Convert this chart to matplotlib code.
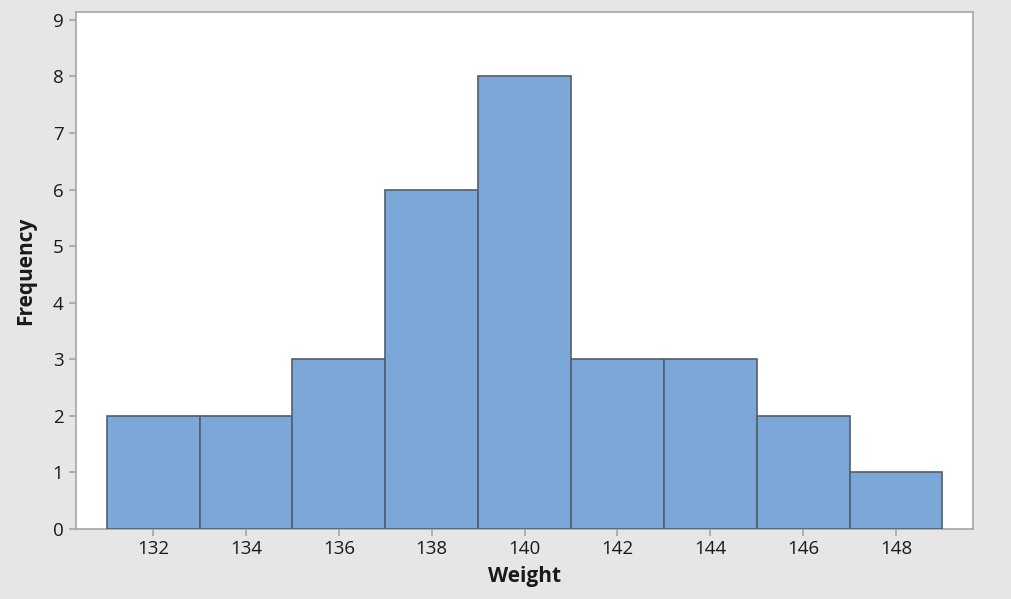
import matplotlib
matplotlib.use("Agg")
import matplotlib.pyplot as plt

bin_centers = [132, 134, 136, 138, 140, 142, 144, 146, 148]
frequencies = [2, 2, 3, 6, 8, 3, 3, 2, 1]
x_ticks = [132, 134, 136, 138, 140, 142, 144, 146, 148]
y_ticks = [0, 1, 2, 3, 4, 5, 6, 7, 8, 9]
bin_width = 2

plt.rcParams['font.family'] = ['Open Sans', 'DejaVu Sans']

fig = plt.figure(figsize=(10.12, 5.99), dpi=100)
fig.patch.set_facecolor('#e6e6e6')
ax = fig.add_axes([0.0751, 0.1169, 0.8864, 0.8631])
ax.set_facecolor('white')

ax.bar(bin_centers, frequencies, width=bin_width, color='#7ba7d9',
       edgecolor='#525e6c', linewidth=1.2, zorder=3)

ax.set_xlim(130.34, 149.66)
ax.set_ylim(0, 9.14)
ax.set_xticks(x_ticks)
ax.set_yticks(y_ticks)
for s in ax.spines.values():
    s.set_color('#a6a6a6')
    s.set_linewidth(1.2)
ax.tick_params(axis='both', colors='#a6a6a6', length=5, width=1.2,
               labelcolor='#1a1a1a', labelsize=13.5)
ax.tick_params(axis='x', pad=3)
ax.tick_params(axis='y', pad=4)

ax.set_xlabel('Weight', fontsize=15, fontweight='bold', color='#1a1a1a', labelpad=6)
ax.set_ylabel('Frequency', fontsize=15, fontweight='bold', color='#1a1a1a', labelpad=12)

fig.savefig('out.png', dpi=100, facecolor=fig.get_facecolor())
